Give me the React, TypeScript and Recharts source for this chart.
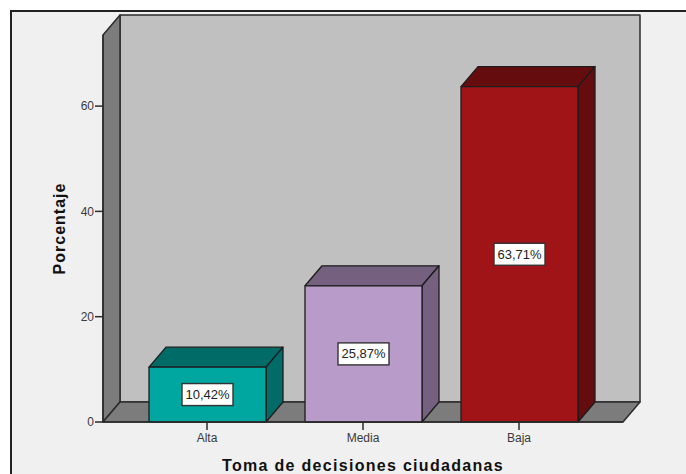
import React from 'react';
import { BarChart, Bar, XAxis, YAxis, ReferenceArea, LabelList, Label } from 'recharts';

const categories = ['Alta', 'Media', 'Baja'];
const percentages = [10.42, 25.87, 63.71];
const yTicks = [0, 20, 40, 60];

const frontColors = ['#00a6a0', '#b89bc9', '#a01418'];
const shadeColors = ['#006b67', '#75607f', '#640c0e'];

const chartData = categories.map((name, i) => ({ name, value: percentages[i] }));

// depth of the fake 3D box, in pixels
const DX = 17;
const DY = 20;
// x axis padding, the walls have to run past it
const PAD = 26;
const LINE = '#2b2b2b';
const FONT = '"Liberation Sans", Arial, sans-serif';

const Walls = ({ x: ax, y, width: aw, height: h }: any) => {
  const x = ax - PAD;
  const w = aw + PAD * 2;
  return (
    <g stroke={LINE} strokeWidth={1.5} strokeLinejoin="round">
      <rect x={x + DX} y={y - DY} width={w} height={h} fill="#c0c0c0" />
      <polygon
        points={`${x},${y} ${x + DX},${y - DY} ${x + DX},${y + h - DY} ${x},${y + h}`}
        fill="#7c7c7c"
      />
      <polygon
        points={`${x},${y + h} ${x + DX},${y + h - DY} ${x + w + DX},${y + h - DY} ${x + w},${y + h}`}
        fill="#7c7c7c"
      />
    </g>
  );
};

const Box3D = ({ x, y, width: w, height: h, index }: any) => (
  <g stroke="#1c1c1c" strokeWidth={1.3} strokeLinejoin="round">
    <polygon
      points={`${x},${y} ${x + DX},${y - DY} ${x + w + DX},${y - DY} ${x + w},${y}`}
      fill={shadeColors[index]}
    />
    <polygon
      points={`${x + w},${y} ${x + w + DX},${y - DY} ${x + w + DX},${y + h - DY} ${x + w},${y + h}`}
      fill={shadeColors[index]}
    />
    <rect x={x} y={y} width={w} height={h} fill={frontColors[index]} />
  </g>
);

const ValueBox = ({ x, y, width, height, value }: any) => {
  const cx = x + width / 2;
  const cy = y + height / 2;
  return (
    <g>
      <rect x={cx - 25.5} y={cy - 11} width={51} height={22} fill="#ffffff" stroke="#333333" strokeWidth={1.4} />
      <text x={cx} y={cy + 4.5} textAnchor="middle" fontSize={13} fontFamily={FONT} fill="#222222">
        {Number(value).toFixed(2).replace('.', ',') + '%'}
      </text>
    </g>
  );
};

export default function App() {
  return (
    <div style={{ position: 'absolute', left: 0, top: 0, width: 686, height: 474, background: '#ffffff', overflow: 'hidden' }}>
      <div
        style={{
          position: 'absolute',
          left: 10,
          top: 10,
          width: 676,
          height: 464,
          background: '#f0f0f0',
          borderTop: '2px solid #222222',
          borderLeft: '2px solid #222222',
          boxSizing: 'border-box',
        }}
      />
      <div style={{ position: 'absolute', left: 0, top: 0 }}>
        <BarChart
          width={686}
          height={474}
          data={chartData}
          barSize={117}
          margin={{ top: 35, right: 63, bottom: 22, left: 43 }}
        >
          <ReferenceArea y1={0} y2={73.5} shape={Walls} ifOverflow="visible" />
          <XAxis
            dataKey="name"
            height={30}
            padding={{ left: PAD, right: PAD }}
            tickSize={8}
            tickMargin={3}
            interval={0}
            tick={{ fontSize: 12, fontFamily: FONT, fill: '#3a3a3a' }}
            stroke={LINE}
            strokeWidth={1.5}
          >
            <Label
              value="Toma de decisiones ciudadanas"
              position="bottom"
              offset={8}
              style={{ fontSize: 16, fontWeight: 700, fontFamily: FONT, fill: '#111111', letterSpacing: 1.3 }}
            />
          </XAxis>
          <YAxis
            width={60}
            domain={[0, 73.5]}
            ticks={yTicks}
            tickSize={8}
            tickMargin={1}
            tick={{ fontSize: 12, fontFamily: FONT, fill: '#3a3a3a' }}
            stroke={LINE}
            strokeWidth={1.5}
          >
            <Label
              value="Porcentaje"
              angle={-90}
              position="left"
              offset={-16}
              style={{ fontSize: 16, fontWeight: 700, fontFamily: FONT, fill: '#111111', letterSpacing: 1, textAnchor: 'middle' }}
            />
          </YAxis>
          <Bar dataKey="value" shape={Box3D} isAnimationActive={false}>
            <LabelList dataKey="value" content={ValueBox} />
          </Bar>
        </BarChart>
      </div>
    </div>
  );
}
